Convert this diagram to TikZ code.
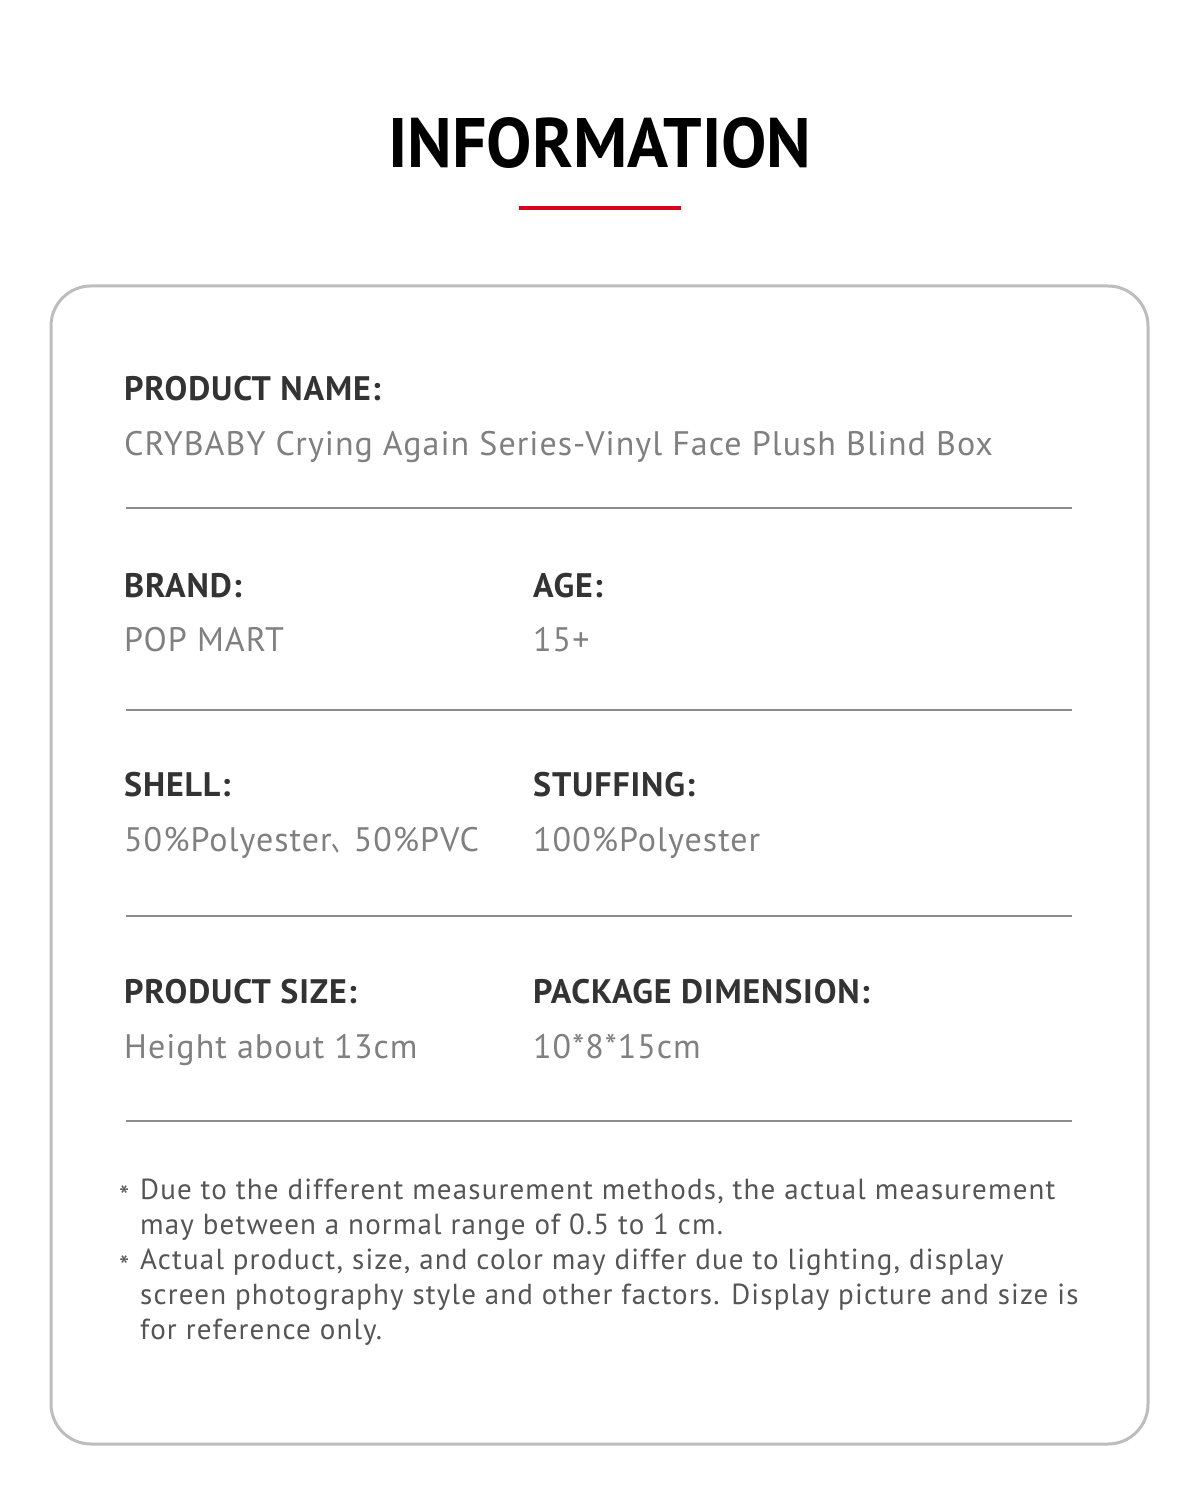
\documentclass[tikz,border=0pt]{standalone}
\usepackage{fontspec}
\setmainfont{PT Sans}
\newfontfamily\cjk{Noto Sans CJK SC}
\definecolor{infored}{HTML}{D9001B}
\definecolor{boxgray}{HTML}{BDBDBD}
\definecolor{rulegray}{HTML}{8C8C8C}
\definecolor{labelgray}{HTML}{333333}
\definecolor{valuegray}{HTML}{808080}
\definecolor{notegray}{HTML}{555555}

\begin{document}
\begin{tikzpicture}[x=1pt, y=-1pt,
	txt/.style={anchor=base west, inner sep=0pt},
	label/.style={txt, text=labelgray, font=\fontsize{34}{40}\selectfont\bfseries\addfontfeatures{LetterSpace=2.5}},
	value/.style={txt, text=valuegray, font=\fontsize{34}{40}\selectfont\addfontfeatures{LetterSpace=3}},
	note/.style={txt, text=notegray, font=\fontsize{29}{35}\selectfont\addfontfeatures{LetterSpace=4}}]
	\useasboundingbox[fill=white] (0, 0) rectangle (1200, 1487);

	% heading
	\node[anchor=base, inner sep=0pt, text=black, font=\fontsize{70}{80}\selectfont\bfseries]
		(title) at (600, 168) {\scalebox{0.97}[1]{INFORMATION}};
	\draw[infored, line width=4] (519, 208) -- (681, 208);

	% card
	\draw[boxgray, line width=3, rounded corners=40] (51, 286) rectangle (1148, 1444);

	\foreach \y in {508, 710, 916, 1121} {
		\draw[rulegray, line width=2] (126, \y) -- (1072, \y);
	}

	% rows
	\node[label] (name) at (124, 400) {PRODUCT NAME:};
	\node[value] (namev) at (124, 455) {CRYBABY Crying Again Series-Vinyl Face Plush Blind Box};

	\node[label] (brand) at (124, 597) {BRAND:};
	\node[value] (brandv) at (124, 651) {POP MART};
	\node[label] (age) at (533, 597) {AGE:};
	\node[value] (agev) at (533, 651) {15+};

	\node[label] (shell) at (124, 796) {SHELL:};
	\node[value] (shellv) at (124, 851) {50\%Polyester\scalebox{0.65}[1]{\cjk 、}50\%PVC};
	\node[label] (stuff) at (533, 796) {STUFFING:};
	\node[value] (stuffv) at (533, 851) {100\%Polyester};

	\node[label] (size) at (124, 1003) {PRODUCT SIZE:};
	\node[value] (sizev) at (124, 1058) {Height about 13cm};
	\node[label] (pack) at (533, 1003) {PACKAGE DIMENSION:};
	\node[value] (packv) at (533, 1058) {10*8*15cm};

	% notes
	\node[note] (star1) at (119, 1206) {*};
	\node[note] (star2) at (119, 1276) {*};
	\foreach \y/\t [count=\i] in {
		1199/{Due to the different measurement methods, the actual measurement},
		1234/{may between a normal range of 0.5 to 1 cm.},
		1269/{Actual product, size, and color may differ due to lighting, display},
		1304/{screen photography style and other factors. Display picture and size is},
		1339/{for reference only.}} {
		\node[note] (line\i) at (140, \y) {\t};
	}
\end{tikzpicture}
\end{document}
